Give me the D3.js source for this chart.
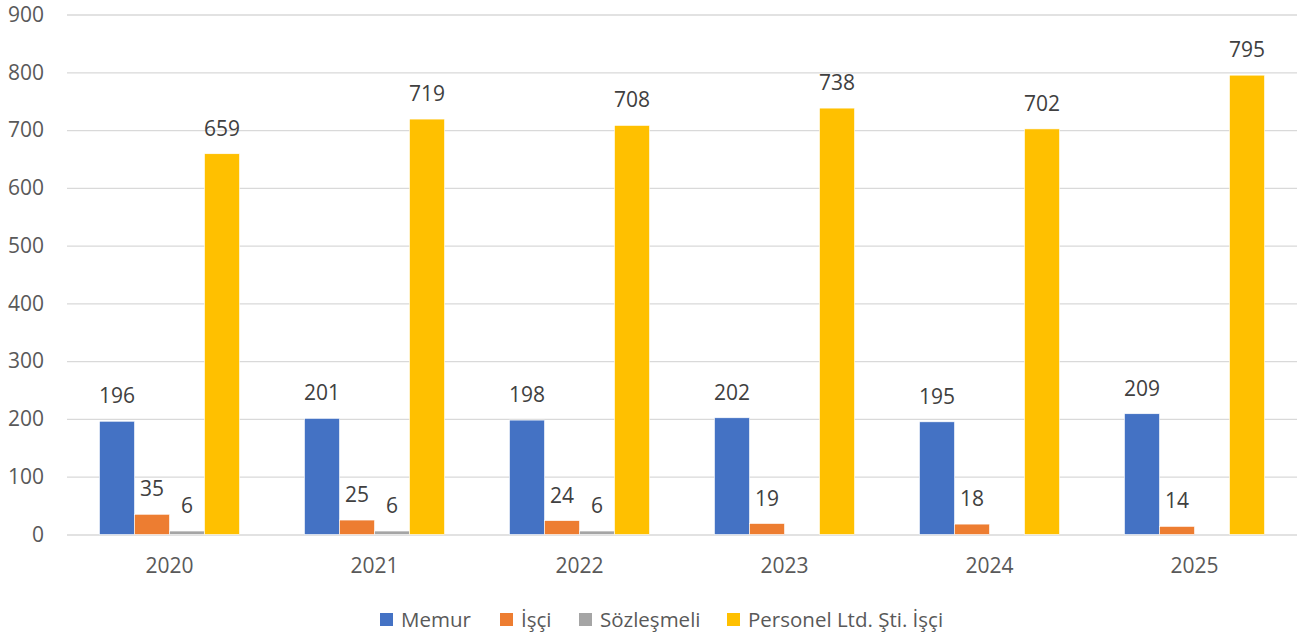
<!DOCTYPE html>
<meta charset="utf-8">
<style>
body { margin:0; background:#fff; }
text { font-family: "Open Sans", "Noto Sans", sans-serif; }
.tick text { fill:#595959; font-size:21px; }
.lbl { fill:#404040; font-size:21px; }
.leg { fill:#595959; font-size:20.5px; }
</style>
<body>
<div id="chart"></div>
<script src="https://cdn.jsdelivr.net/npm/d3@7"></script>
<script>
var years = ["2020", "2021", "2022", "2023", "2024", "2025"];
var seriesNames = ["Memur", "İşçi", "Sözleşmeli", "Personel Ltd. Şti. İşçi"];
var memur = [196, 201, 198, 202, 195, 209];
var isci = [35, 25, 24, 19, 18, 14];
var sozlesmeli = [6, 6, 6, null, null, null];
var personel = [659, 719, 708, 738, 702, 795];
var yTicks = [0, 100, 200, 300, 400, 500, 600, 700, 800, 900];
var colors = ["#4472C4", "#ED7D31", "#A5A5A5", "#FFC000"];

var allSeries = [memur, isci, sozlesmeli, personel];
var W = 1300, H = 636;
var plotL = 67, plotR = 1297, plotT = 14.5, plotB = 534.5;

var svg = d3.select("#chart").append("svg")
    .attr("width", W)
    .attr("height", H);

var x0 = d3.scaleBand()
    .domain(years)
    .range([plotL, plotR])
    .paddingInner(0.317)
    .paddingOuter(0.1585);

var x1 = d3.scaleBand()
    .domain(d3.range(seriesNames.length))
    .range([0, x0.bandwidth()]);

var y = d3.scaleLinear()
    .domain([0, 900])
    .range([plotB, plotT]);

// gridlines + y labels
var yAxis = svg.append("g")
    .attr("transform", "translate(" + plotL + ",0)")
    .call(d3.axisLeft(y).tickValues(yTicks).tickSize(-(plotR - plotL)).tickPadding(23));
yAxis.select(".domain").remove();
yAxis.selectAll(".tick line").attr("stroke", "#D9D9D9").attr("stroke-width", 1.3);

// x labels
var xAxis = svg.append("g")
    .attr("transform", "translate(0," + plotB + ")")
    .call(d3.axisBottom(x0).tickSize(0).tickPadding(23.5));
xAxis.select(".domain").remove();

var rows = years.map(function(yr, i) {
  return { year: yr, vals: allSeries.map(function(s, j) { return { k: j, v: s[i] }; }) };
});

var groups = svg.append("g").selectAll("g")
  .data(rows)
  .enter().append("g")
    .attr("transform", function(d) { return "translate(" + x0(d.year) + ",0)"; });

var cells = groups.selectAll("g")
  .data(function(d) { return d.vals.filter(function(c) { return c.v != null; }); })
  .enter().append("g");

cells.append("rect")
    .attr("x", function(d) { return x1(d.k); })
    .attr("width", x1.bandwidth())
    .attr("y", function(d) { return y(d.v); })
    .attr("height", function(d) { return y(0) - y(d.v); })
    .attr("fill", function(d) { return colors[d.k]; })
    .attr("stroke", "#fff")
    .attr("stroke-width", 0.6);

cells.append("text")
    .attr("class", "lbl")
    .attr("x", function(d) { return x1(d.k) + x1.bandwidth() / 2; })
    .attr("y", function(d) { return y(d.v) - 18; })
    .attr("text-anchor", "middle")
    .text(function(d) { return d.v; });

// legend
var legX = [380, 500, 579, 727];
var leg = svg.append("g").selectAll("g")
  .data(seriesNames)
  .enter().append("g")
    .attr("transform", function(d, i) { return "translate(" + legX[i] + ",613)"; });

leg.append("rect")
    .attr("width", 13).attr("height", 13)
    .attr("fill", function(d, i) { return colors[i]; });

leg.append("text")
    .attr("class", "leg")
    .attr("x", 21)
    .attr("y", 14)
    .text(function(d) { return d; });
</script>
</body>
